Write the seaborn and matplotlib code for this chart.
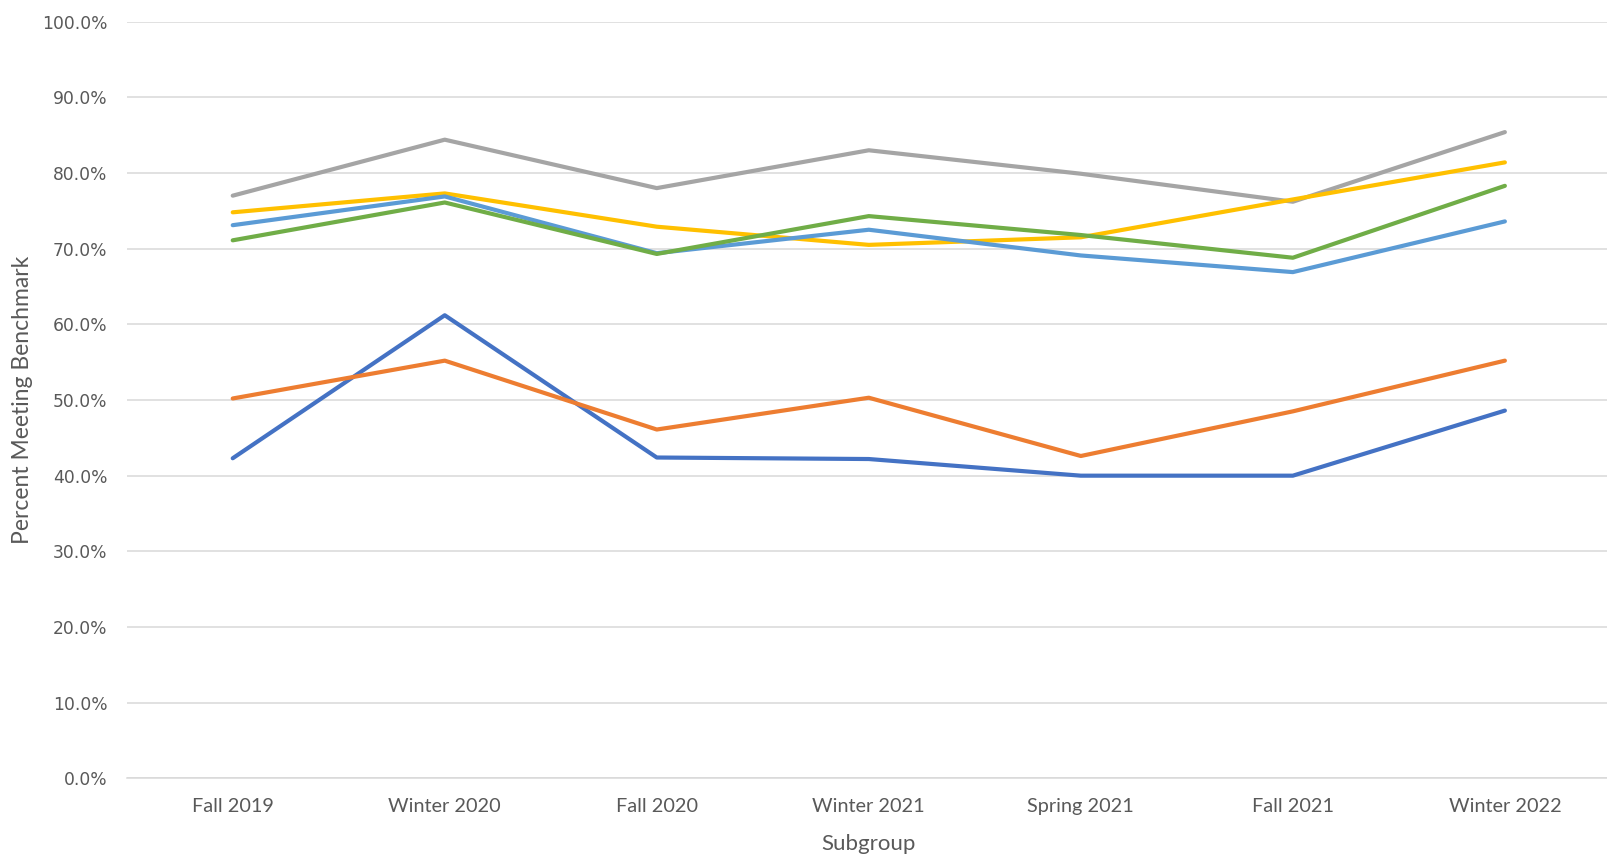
import pandas as pd
import matplotlib.pyplot as plt
import seaborn as sns
from matplotlib.ticker import PercentFormatter, MultipleLocator

terms = ["Fall 2019", "Winter 2020", "Fall 2020", "Winter 2021", "Spring 2021", "Fall 2021", "Winter 2022"]

series_1 = [42.3, 61.2, 42.4, 42.2, 40.0, 40.0, 48.6]
series_2 = [50.2, 55.2, 46.1, 50.3, 42.6, 48.5, 55.2]
series_3 = [77.0, 84.4, 78.0, 83.0, 79.9, 76.2, 85.4]
series_4 = [74.8, 77.3, 72.9, 70.5, 71.5, 76.5, 81.4]
series_5 = [73.1, 76.9, 69.4, 72.5, 69.1, 66.9, 73.6]
series_6 = [71.1, 76.1, 69.3, 74.3, 71.8, 68.8, 78.3]

series_names = ["Series 1", "Series 2", "Series 3", "Series 4", "Series 5", "Series 6"]
palette = ["#4472C4", "#ED7D31", "#A5A5A5", "#FFC000", "#5B9BD5", "#70AD47"]

rows = []
for name, vals in zip(series_names, [series_1, series_2, series_3, series_4, series_5, series_6]):
    for t, v in zip(terms, vals):
        rows.append({"Subgroup": t, "Percent": v, "Group": name})
df = pd.DataFrame(rows)

sns.set_theme(style="white")
plt.rcParams['font.family'] = ['DejaVu Sans']

fig = plt.figure(figsize=(16.08, 8.58), dpi=100)
ax = fig.add_axes([0.0788, 0.0928, 0.923, 0.882])

sns.lineplot(data=df, x="Subgroup", y="Percent", hue="Group", palette=palette,
             linewidth=3.0, legend=False, sort=False, ax=ax)

ax.set_ylim(0, 100)
ax.set_xlim(-0.5, 6.5)
ax.yaxis.set_major_locator(MultipleLocator(10))
ax.yaxis.set_major_formatter(PercentFormatter(decimals=1))
ax.grid(axis="y", color="#D9D9D9", linewidth=1.1)
ax.set_axisbelow(True)
for s in ["top", "right", "left"]:
    ax.spines[s].set_visible(False)
ax.spines["bottom"].set_color("#D9D9D9")
ax.spines["bottom"].set_linewidth(1.1)

ax.tick_params(axis="both", length=0)
ax.tick_params(axis="y", labelsize=12.3, labelcolor="#595959", pad=14)
ax.tick_params(axis="x", labelsize=14.3, labelcolor="#595959", pad=14)
for lab in ax.get_xticklabels():
    lab.set_family("Lato")

ax.set_xlabel("Subgroup", fontsize=16, color="#595959", family="Lato", labelpad=14)
ax.set_ylabel("Percent Meeting Benchmark", fontsize=16.5, color="#595959", family="Lato", labelpad=6)

fig.savefig("out.png", dpi=100)
